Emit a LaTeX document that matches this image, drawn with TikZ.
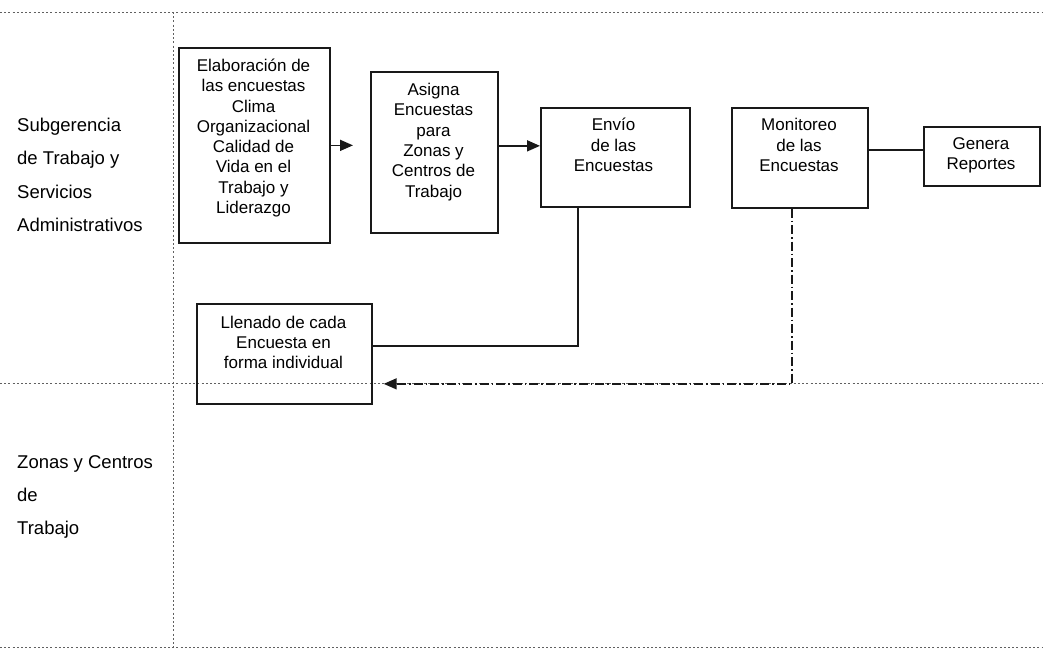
\documentclass[tikz,border=0pt]{standalone}
\usepackage{fontspec}
\setmainfont{Liberation Sans}
\usetikzlibrary{arrows.meta}
\begin{document}
\begin{tikzpicture}[x=1pt,y=-1pt,
  lane/.style={gray!75!black, line width=1pt, dash pattern=on 2pt off 2.2pt},
  procbox/.style={draw=black!90, line width=1.7pt, anchor=north west, inner sep=0pt},
  boxtext/.style={align=center, inner sep=0pt, font=\fontsize{17}{20.3}\selectfont, text=black},
  lanetext/.style={align=left, anchor=west, inner sep=0pt, font=\fontsize{18.5}{33.4}\selectfont, text=black},
  link/.style={draw=black!90, line width=1.6pt},
  tip/.style={-{Triangle[length=13pt,width=11pt]}},
  dashdot/.style={draw=black!90, line width=1.6pt, dash pattern=on 9pt off 3pt on 1.5pt off 3pt}
]
\useasboundingbox (0,0) rectangle (1043,649);

% swim-lane separators
\draw[lane] (0,12) -- (1043,12);
\draw[lane] (0,383) -- (1043,383);
\draw[lane] (0,647) -- (1043,647);
\draw[lane] (173,12) -- (173,649);

% lane titles
\node[lanetext] (laneA) at (17,175) {Subgerencia\\de Trabajo y\\Servicios\\Administrativos};
\node[lanetext] (laneB) at (17,497) {Zonas y Centros\\de\\Trabajo};

% process boxes
\node[procbox, minimum width=151pt, minimum height=195pt] (b1) at (178,47) {};
\node[procbox, minimum width=127pt, minimum height=161pt] (b2) at (370,71) {};
\node[procbox, minimum width=149pt, minimum height=99pt]  (b3) at (540,107) {};
\node[procbox, minimum width=136pt, minimum height=100pt] (b4) at (731,107) {};
\node[procbox, minimum width=116pt, minimum height=59pt]  (b5) at (923,126) {};
\node[procbox, minimum width=175pt, minimum height=100pt] (b6) at (196,303) {};

% box captions
\node[boxtext] (t1) at (253.5,138) {Elaboración de\\las encuestas\\Clima\\Organizacional\\Calidad de\\Vida en el\\Trabajo y\\Liderazgo};
\node[boxtext] (t2) at (433.5,142) {Asigna\\Encuestas\\para\\Zonas y\\Centros de\\Trabajo};
\node[boxtext] (t3) at (613.5,145) {Envío\\de las\\Encuestas};
\node[boxtext] (t4) at (799,145) {Monitoreo\\de las\\Encuestas};
\node[boxtext] (t5) at (981,155) {Genera\\Reportes};
\node[boxtext] (t6) at (283.5,342.5) {Llenado de cada\\Encuesta en\\forma individual};

% connectors
\draw[link, tip, shorten >=17pt] (b1.east) -- (b1.east -| b2.west);
\draw[link, tip] ([yshift=6.5pt]b2.east) -- ([yshift=6.5pt]b2.east -| b3.west);
\draw[link] ([yshift=6.5pt]b5.west) -- ([yshift=6.5pt]b5.west -| b4.east);
\draw[link] ([xshift=38pt]b3.south west) |- ([yshift=8pt]b6.east);
\draw[dashdot, tip, shorten >=11pt] ([xshift=-8pt]b4.south) |- ([yshift=-30pt]b6.east);
\end{tikzpicture}
\end{document}
